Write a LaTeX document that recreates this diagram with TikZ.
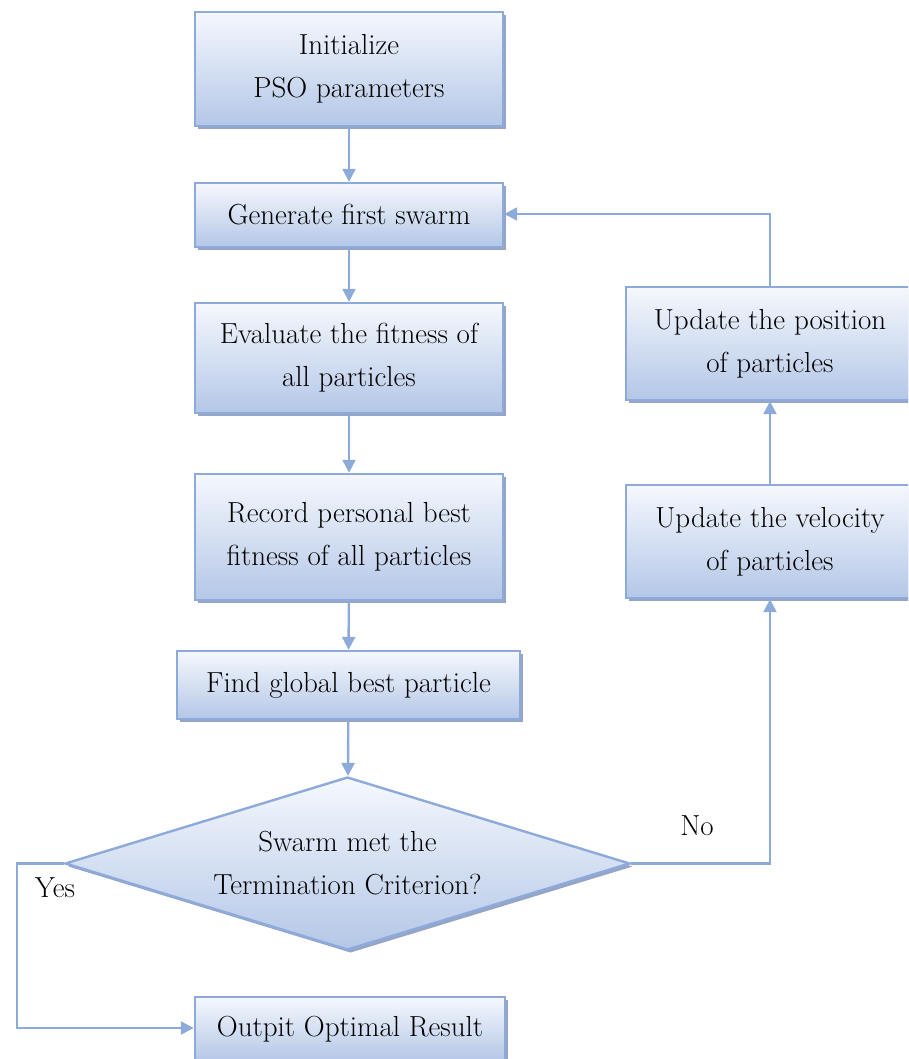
\documentclass[tikz,border=0pt]{standalone}
\usetikzlibrary{shapes.geometric,arrows.meta,shadows}
\definecolor{edgecol}{RGB}{142,170,219}
\definecolor{topcol}{RGB}{245,248,253}
\definecolor{botcol}{RGB}{180,199,231}
\definecolor{shadcol}{RGB}{150,165,195}
\tikzset{
  x=1pt,y=1pt,
  boxbase/.style={draw=edgecol, line width=2.4pt, top color=topcol, bottom color=botcol,
    general shadow={fill=shadcol, shadow xshift=3pt, shadow yshift=-3pt},
    font=\fontsize{29}{43}\selectfont, align=center, inner sep=0pt, text=black},
  stepbox/.style={boxbase, rectangle},
  decbox/.style={boxbase, diamond, aspect=3.27},
  conn/.style={draw=edgecol, line width=2.4pt, -{Triangle[width=13pt,length=13pt]}},
  lbl/.style={font=\fontsize{29}{30}\selectfont, inner sep=0pt}
}
\begin{document}
\begin{tikzpicture}
\useasboundingbox (0,0) rectangle (908,-1059);
\clip (0,0) rectangle (908,-1059);
\node[stepbox, minimum width=308, minimum height=114] (init) at (349,-69) {Initialize\\PSO parameters};
\node[stepbox, minimum width=308, minimum height=64] (gen) at (349,-215) {Generate first swarm};
\node[stepbox, minimum width=308, minimum height=110] (eval) at (349,-358) {Evaluate the fitness of\\all particles};
\node[stepbox, minimum width=308, minimum height=126] (rec) at (349,-537) {Record personal best\\fitness of all particles};
\node[stepbox, minimum width=343, minimum height=68] (find) at (348.5,-685) {Find global best particle};
\node[decbox, minimum width=565, minimum height=173] (dec) at (347.5,-863.5) {Swarm met the\\Termination Criterion?};
\node[stepbox, minimum width=310, minimum height=64] (out) at (350,-1029) {Outpit Optimal Result};
\node[stepbox, minimum width=288, minimum height=113] (vel) at (770,-541.5) {Update the velocity\\of particles};
\node[stepbox, minimum width=288, minimum height=113] (pos) at (770,-343.5) {Update the position\\of particles};
\coordinate (nocorner) at (770,-863.5);
\coordinate (topcorner) at (770,-214);
\coordinate (yescorner1) at (17,-863.5);
\coordinate (yescorner2) at (17,-1028);
\draw[conn] (init) -- (gen);
\draw[conn] (gen) -- (eval);
\draw[conn] (eval) -- (rec);
\draw[conn] (rec) -- (find);
\draw[conn] (find) -- (dec);
\draw[conn] (dec.east) -- (nocorner) -- (vel.south);
\draw[conn] (vel) -- (pos);
\draw[conn] (pos.north) -- (topcorner) -- (gen.east |- topcorner);
\draw[conn] (dec.west) -- (yescorner1) -- (yescorner2) -- (out.west |- yescorner2);
\node[lbl] (no) at (697,-826) {No};
\node[lbl] (yes) at (55,-888) {Yes};
\end{tikzpicture}
\end{document}
